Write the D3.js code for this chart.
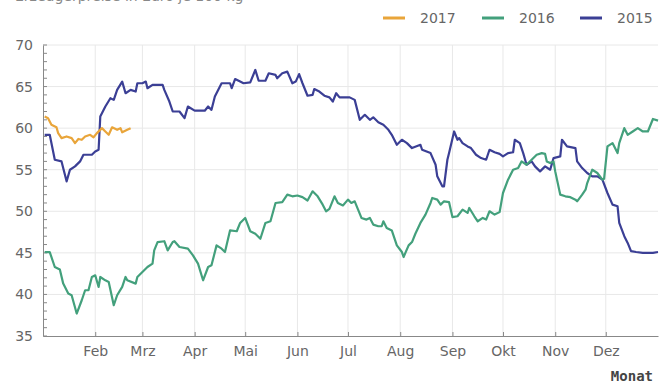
<!DOCTYPE html>
<html><head><meta charset="utf-8">
<script src="https://cdn.jsdelivr.net/npm/d3@7"></script>
<style>
html,body{margin:0;padding:0;background:#fff;}
svg{display:block;font-family:"DejaVu Sans",sans-serif;}
</style></head>
<body>
<svg id="chart" width="667" height="383"></svg>
<script>
// Day offsets from 1 January
const series2015 = [[1,59.2],[4,59.2],[7,56.2],[11,56.0],[14,53.6],[16,55.0],[19,55.4],[22,56.0],[24,56.8],[29,56.8],[31,57.2],[33,57.4],[34,61.4],[37,62.6],[40,63.6],[42,63.4],[44,64.6],[47,65.6],[49,64.2],[52,64.6],[55,64.4],[56,65.4],[59,65.4],[61,65.6],[62,64.8],[65,65.2],[71,65.2],[72,64.6],[75,63.2],[77,62.0],[81,62.0],[84,61.2],[86,62.6],[90,62.1],[96,62.1],[98,62.6],[100,62.2],[102,63.8],[106,65.4],[111,65.4],[112,64.8],[114,65.9],[117,65.6],[119,65.4],[123,65.5],[126,67.0],[128,65.7],[132,65.7],[134,66.6],[138,66.4],[139,66.0],[142,66.6],[145,66.8],[148,65.4],[150,65.6],[152,66.5],[154,65.4],[157,63.9],[160,64.0],[161,64.7],[164,64.4],[167,63.9],[170,63.7],[172,63.2],[174,64.2],[176,63.7],[182,63.7],[185,63.4],[188,61.0],[191,61.6],[194,61.0],[196,61.3],[199,60.7],[202,60.4],[205,59.8],[207,59.2],[210,58.0],[213,58.6],[216,58.2],[219,57.6],[224,58.0],[225,57.4],[230,57.0],[233,55.6],[234,54.2],[237,53.0],[238,53.0],[240,56.2],[241,57.0],[244,59.6],[246,58.6],[247,58.8],[249,58.2],[252,57.8],[254,57.6],[257,56.8],[260,56.4],[263,56.2],[265,57.4],[268,57.1],[271,56.9],[273,56.6],[276,57.0],[279,57.1],[280,58.6],[283,58.2],[285,57.0],[287,55.6],[290,56.0],[292,55.4],[295,54.8],[298,55.4],[301,55.0],[303,56.4],[307,56.6],[308,58.6],[311,57.8],[316,57.6],[317,56.0],[320,55.2],[323,54.6],[326,54.2],[329,54.2],[332,53.8],[335,52.2],[338,50.8],[341,50.6],[342,48.6],[345,47.0],[347,46.2],[349,45.2],[352,45.1],[356,45.0],[359,45.0],[362,45.0],[365,45.1]];

const series2016 = [[1,45.1],[4,45.1],[7,43.3],[10,43.0],[12,41.3],[15,40.1],[17,39.9],[20,37.7],[23,39.3],[25,40.5],[27,40.5],[29,42.1],[31,42.3],[33,40.9],[34,42.1],[37,41.7],[39,41.5],[42,38.7],[44,39.9],[47,40.9],[49,42.1],[50,41.7],[55,41.3],[56,42.1],[59,42.7],[62,43.3],[65,43.7],[66,45.3],[68,46.3],[72,46.4],[74,45.3],[77,46.3],[78,46.4],[81,45.7],[86,45.5],[89,44.7],[92,43.7],[95,41.7],[98,43.3],[100,43.5],[103,45.9],[106,45.5],[108,45.1],[111,47.7],[115,47.6],[117,48.6],[120,49.2],[123,47.6],[126,47.3],[129,46.7],[132,48.6],[135,48.8],[138,51.0],[142,51.1],[145,52.0],[148,51.8],[151,51.9],[154,51.7],[157,51.3],[160,52.4],[163,51.8],[166,50.8],[168,50.0],[170,50.3],[173,51.8],[175,51.0],[178,50.7],[181,51.4],[183,51.0],[185,51.2],[187,50.2],[189,49.2],[192,49.0],[194,49.2],[196,48.4],[199,48.2],[201,48.2],[202,48.8],[204,48.0],[207,47.7],[210,45.9],[213,45.1],[214,44.5],[217,45.9],[219,46.3],[221,47.3],[224,48.6],[227,49.6],[230,51.0],[231,51.6],[234,51.4],[236,50.8],[238,51.2],[241,51.1],[243,49.3],[246,49.4],[249,50.2],[252,49.8],[253,50.4],[256,49.4],[258,48.8],[261,49.2],[263,49.0],[265,50.0],[268,49.6],[271,49.9],[273,52.2],[276,53.8],[279,55.0],[282,55.2],[284,56.0],[287,55.6],[290,56.2],[293,56.8],[296,57.0],[298,56.9],[299,56.0],[301,55.8],[303,56.0],[304,54.8],[307,52.0],[310,51.8],[313,51.7],[316,51.4],[317,51.2],[320,52.0],[322,52.6],[323,53.4],[326,55.0],[329,54.6],[332,53.8],[333,53.9],[335,57.8],[338,58.2],[341,57.0],[342,58.2],[345,60.0],[347,59.2],[350,59.6],[353,60.0],[356,59.6],[359,59.6],[362,61.1],[365,60.9]];

const series2017 = [[1,61.4],[3,61.2],[5,60.4],[8,60.1],[9,59.4],[11,58.8],[14,59.0],[17,58.8],[19,58.2],[21,58.7],[23,58.6],[25,59.0],[28,59.2],[30,58.9],[32,59.4],[35,60.0],[37,59.6],[39,59.2],[41,60.1],[44,59.8],[46,60.0],[47,59.5],[50,59.8],[52,60.0]];

const seriesNames = ["2017","2016","2015"];
const seriesColors = ["#e9a53a","#43a07c","#3b3f95"];

const monthStarts = [31,59,90,120,151,181,212,243,273,304,334];
const monthLabels = ["Feb","Mrz","Apr","Mai","Jun","Jul","Aug","Sep","Okt","Nov","Dez"];
const yTicks = [35,40,45,50,55,60,65,70];
const xTitle = "Monat";
const topText = "Erzeugerpreise in Euro je 100 kg";

const svg = d3.select("#chart");
const pLeft = 43, pRight = 658, pTop = 45, pBottom = 336;
const x = d3.scaleLinear().domain([0,365]).range([pLeft,pRight]);
const y = d3.scaleLinear().domain([35,70]).range([pBottom,pTop]);

// title, cut off at the very top as in the reference
svg.append("text").attr("x",15).attr("y",1).attr("font-size",14).attr("fill","#888").text(topText);

// gridlines
const grid = svg.append("g");
grid.selectAll("line.h").data(yTicks.slice(1)).join("line")
  .attr("x1",pLeft).attr("x2",pRight).attr("y1",d=>y(d)).attr("y2",d=>y(d))
  .attr("stroke","#e8e8e8").attr("stroke-width",1);
grid.selectAll("line.v").data(monthStarts).join("line")
  .attr("x1",d=>x(d)).attr("x2",d=>x(d)).attr("y1",pTop).attr("y2",pBottom)
  .attr("stroke","#e8e8e8").attr("stroke-width",1);

// y axis
const yAxis = d3.axisLeft(y).tickValues(yTicks).tickSize(0).tickPadding(10).tickFormat(d3.format("d"));
const gy = svg.append("g").attr("transform",`translate(${pLeft},0)`).call(yAxis);
gy.select(".domain").attr("stroke","#888");
gy.selectAll("text").attr("font-size",14).attr("fill","#666").attr("font-family","DejaVu Sans");
const minor = d3.range(35,71,1);
svg.append("g").selectAll("line").data(minor).join("line")
  .attr("x1",pLeft).attr("x2",pLeft+4).attr("y1",d=>y(d)).attr("y2",d=>y(d))
  .attr("stroke","#888").attr("stroke-width",1);

// x axis
const xAxis = d3.axisBottom(x).tickValues(monthStarts).tickSizeInner(-4).tickSizeOuter(0).tickPadding(10.5)
  .tickFormat((d,i)=>monthLabels[i]);
const gx = svg.append("g").attr("transform",`translate(0,${pBottom})`).call(xAxis);
gx.select(".domain").attr("stroke","#888");
gx.selectAll(".tick line").attr("stroke","#888");
gx.selectAll("text").attr("font-size",14).attr("fill","#666").attr("font-family","DejaVu Sans");

svg.append("text").attr("x",653).attr("y",381).attr("text-anchor","end")
  .attr("font-family","DejaVu Sans Mono").attr("font-weight","bold").attr("font-size",14)
  .attr("fill","#444").text(xTitle);

// lines
const line = d3.line().x(d=>x(d[0])).y(d=>y(d[1]));
const allSeries = [series2015, series2016, series2017];
const colorsFor = [seriesColors[2], seriesColors[1], seriesColors[0]];
svg.append("g").selectAll("path").data(allSeries).join("path")
  .attr("d",line).attr("fill","none").attr("stroke",(d,i)=>colorsFor[i])
  .attr("stroke-width",2.2).attr("stroke-linejoin","round");

// legend
const legendX = [383,482,580];
const lg = svg.append("g").selectAll("g").data(seriesNames).join("g")
  .attr("transform",(d,i)=>`translate(${legendX[i]},18)`);
lg.append("line").attr("x1",0).attr("x2",22).attr("y1",0).attr("y2",0)
  .attr("stroke",(d,i)=>seriesColors[i]).attr("stroke-width",3);
lg.append("text").attr("x",37).attr("y",5).attr("font-size",14).attr("fill","#666").text(d=>d);
</script>
</body></html>
